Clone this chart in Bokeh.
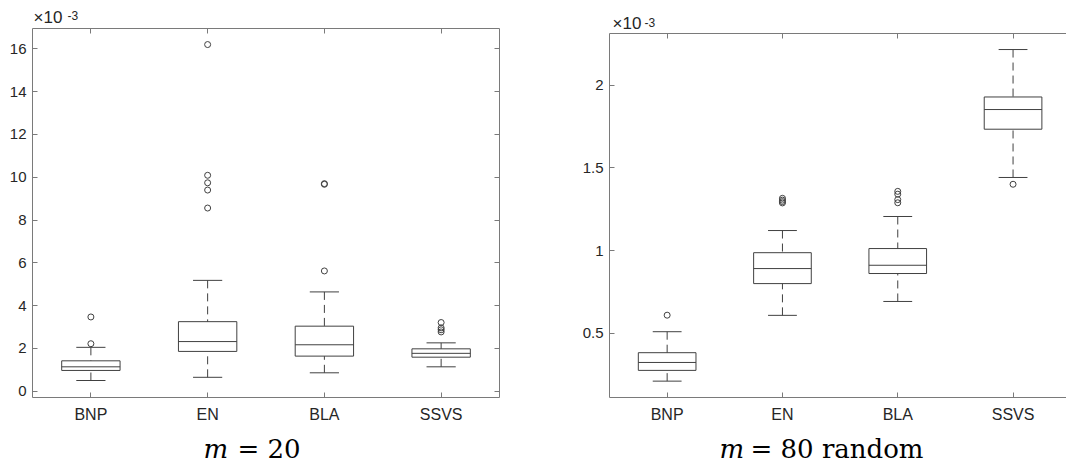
from bokeh.plotting import figure
from bokeh.layouts import row, column
from bokeh.models import (FixedTicker, CustomJSTickFormatter, LinearAxis, Label, Range1d)
from bokeh.embed import file_html
from bokeh.resources import INLINE

methods = ["BNP", "EN", "BLA", "SSVS"]

# m = 20 (values in units of 1e-3)
m20_lo = [0.50, 0.65, 0.86, 1.14]
m20_q1 = [0.97, 1.86, 1.64, 1.59]
m20_med = [1.14, 2.32, 2.17, 1.77]
m20_q3 = [1.42, 3.25, 3.04, 1.98]
m20_hi = [2.05, 5.18, 4.64, 2.26]
m20_out_idx = [1, 1, 2, 2, 2, 2, 2, 3, 3, 3, 4, 4, 4, 4]
m20_out_val = [3.47, 2.22, 16.2, 10.09, 9.74, 9.40, 8.56, 9.67, 9.70, 5.62, 3.21, 2.96, 2.87, 2.77]

# m = 80 random (values in units of 1e-3)
m80_lo = [0.210, 0.608, 0.692, 1.442]
m80_q1 = [0.275, 0.800, 0.861, 1.734]
m80_med = [0.323, 0.891, 0.911, 1.853]
m80_q3 = [0.382, 0.987, 1.012, 1.929]
m80_hi = [0.509, 1.121, 1.206, 2.216]
m80_out_idx = [1, 2, 2, 2, 2, 3, 3, 3, 3, 4]
m80_out_val = [0.609, 1.316, 1.305, 1.296, 1.288, 1.358, 1.341, 1.308, 1.289, 1.401]

left_yticks = [0, 2, 4, 6, 8, 10, 12, 14, 16]
right_yticks = [0.5, 1, 1.5, 2]

LINE = "#404040"
AX = "#7a7a7a"
TXT = "#262626"
BOXW = 0.5
CAPW = 0.25
DASH = "8 5"


def style_axis(ax, labels=True):
    ax.axis_line_color = AX
    ax.major_tick_line_color = AX
    ax.major_tick_in = 5
    ax.major_tick_out = 0
    ax.minor_tick_line_color = None
    if labels:
        ax.major_label_text_font = "Liberation Sans"
        ax.major_label_text_color = TXT
    else:
        ax.formatter = CustomJSTickFormatter(code="return '';")
        ax.major_label_standoff = 0


def draw_boxes(p, lo, q1, med, q3, hi, out_idx, out_val):
    xs = [i + 1 for i in range(len(methods))]
    p.quad(left=[x - BOXW / 2 for x in xs], right=[x + BOXW / 2 for x in xs],
           bottom=q1, top=q3, fill_color=None, line_color=LINE, line_width=1)
    p.segment(x0=[x - BOXW / 2 for x in xs], x1=[x + BOXW / 2 for x in xs],
              y0=med, y1=med, line_color=LINE, line_width=1)
    p.segment(x0=xs, x1=xs, y0=hi, y1=q3, line_color=LINE, line_width=1, line_dash=DASH)
    p.segment(x0=xs, x1=xs, y0=lo, y1=q1, line_color=LINE, line_width=1, line_dash=DASH)
    p.segment(x0=[x - CAPW / 2 for x in xs], x1=[x + CAPW / 2 for x in xs],
              y0=hi, y1=hi, line_color=LINE, line_width=1)
    p.segment(x0=[x - CAPW / 2 for x in xs], x1=[x + CAPW / 2 for x in xs],
              y0=lo, y1=lo, line_color=LINE, line_width=1)
    p.scatter(x=out_idx, y=out_val, marker="circle", size=6,
              fill_color=None, line_color=LINE, line_width=1)


def make_main(width, height, ml, mr, mt, mb, xend, ystart, yend, yticks, right_axis):
    p = figure(width=width, height=height, output_backend="svg", toolbar_location=None,
               x_range=Range1d(0.5, xend), y_range=Range1d(ystart, yend),
               x_axis_location=None, y_axis_location=None,
               min_border_left=ml, min_border_right=mr,
               min_border_top=mt, min_border_bottom=mb)
    p.outline_line_color = None
    p.xgrid.visible = False
    p.ygrid.visible = False

    xt = FixedTicker(ticks=[1, 2, 3, 4])
    yt = FixedTicker(ticks=yticks)
    xfmt = CustomJSTickFormatter(args=dict(names=methods),
                                 code="return names[Math.round(tick) - 1];")
    yfmt = CustomJSTickFormatter(code="return String(tick);")

    bx = LinearAxis(ticker=xt, formatter=xfmt)
    style_axis(bx)
    bx.major_label_text_font_size = "16px"
    bx.major_label_standoff = 8
    p.add_layout(bx, "below")

    ly = LinearAxis(ticker=yt, formatter=yfmt)
    style_axis(ly)
    ly.major_label_text_font_size = "15px"
    ly.major_label_standoff = 6
    p.add_layout(ly, "left")

    tx = LinearAxis(ticker=xt)
    style_axis(tx, labels=False)
    p.add_layout(tx, "above")

    if right_axis:
        ry = LinearAxis(ticker=yt)
        style_axis(ry, labels=False)
        p.add_layout(ry, "right")
    return p


def make_strip(width, height, ml, mr):
    s = figure(width=width, height=height, output_backend="svg", toolbar_location=None,
               x_range=Range1d(0, 1), y_range=Range1d(0, 1),
               x_axis_location=None, y_axis_location=None,
               min_border_left=ml, min_border_right=mr,
               min_border_top=0, min_border_bottom=0)
    s.outline_line_color = None
    s.xgrid.visible = False
    s.ygrid.visible = False
    return s


def add_exponent(s, x, base_y, sup_dx, sup_y):
    s.add_layout(Label(x=x, y=base_y, x_units="screen", y_units="screen", text="×10",
                       text_font="Liberation Sans", text_font_size="17px",
                       text_color=TXT, text_baseline="bottom"))
    s.add_layout(Label(x=x + sup_dx, y=sup_y, x_units="screen", y_units="screen", text="-3",
                       text_font="Liberation Sans", text_font_size="12px",
                       text_color=TXT, text_baseline="bottom"))


def add_caption(s, parts, base_y):
    for txt, x, style in parts:
        s.add_layout(Label(x=x, y=base_y, x_units="screen", y_units="screen", text=txt,
                           text_font="DejaVu Serif", text_font_size="26px",
                           text_font_style=style, text_color="black",
                           text_baseline="bottom"))


CAP_H = 34

# ---- left column (m = 20) ----
h1 = make_strip(540, 28, 32, 41)
add_exponent(h1, 1, 1.5, 34, 8.5)
p1 = make_main(540, 402, 32, 41, 0, 33, 4.5, -0.294, 16.95, left_yticks, True)
draw_boxes(p1, m20_lo, m20_q1, m20_med, m20_q3, m20_hi, m20_out_idx, m20_out_val)
c1 = make_strip(540, CAP_H, 32, 41)
add_caption(c1, [("m", 171, "italic"), ("= 20", 205, "normal")], 1)

# ---- right column (m = 80 random) ----
h2 = make_strip(526, 33, 69, 0)
add_exponent(h2, 3, 1, 32, 7)
p2 = make_main(526, 397, 69, 0, 0, 33, 0.5 + 457 / 115.3, 0.111, 2.313, right_yticks, False)
draw_boxes(p2, m80_lo, m80_q1, m80_med, m80_q3, m80_hi, m80_out_idx, m80_out_val)
c2 = make_strip(526, CAP_H, 69, 0)
add_caption(c2, [("m", 110, "italic"), ("= 80 random", 141, "normal")], 1)

layout = row(column(h1, p1, c1), column(h2, p2, c2))
open("out.html", "w").write(file_html(layout, INLINE))
